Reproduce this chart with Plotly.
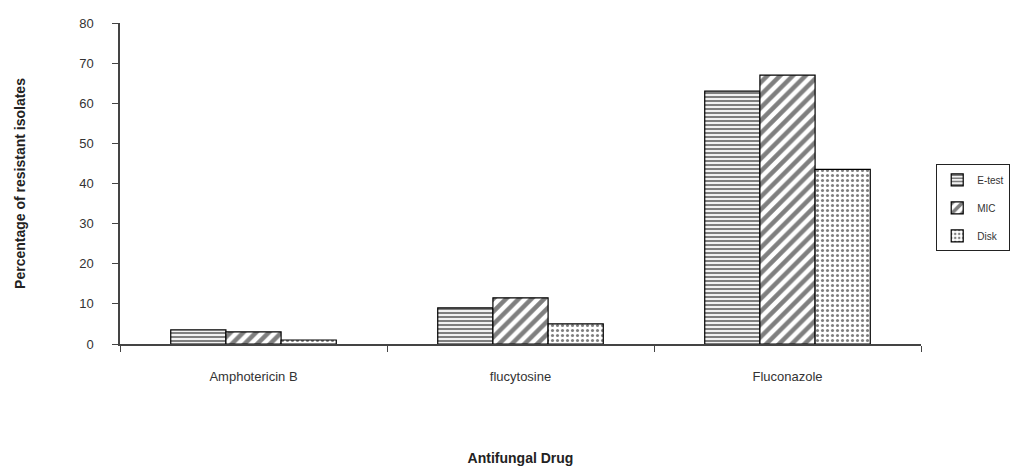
import plotly.graph_objects as go

drugs = ["Amphotericin B", "flucytosine", "Fluconazole"]
etest = [3.5, 9, 63]
mic = [3, 11.5, 67]
disk = [1, 5, 43.5]

series = [
    ("E-test", etest, dict(shape="-", size=4, solidity=0.55)),
    ("MIC", mic, dict(shape="/", size=9, solidity=0.5)),
    ("Disk", disk, dict(shape=".", size=5, solidity=0.3)),
]

fig = go.Figure()
for name, vals, pat in series:
    fig.add_trace(go.Bar(
        name=name, x=drugs, y=vals, legendgroup=name,
        marker=dict(
            color="white",
            line=dict(color="black", width=1.2),
            pattern=dict(fgcolor="black", bgcolor="white", fillmode="overlay", **pat),
        ),
    ))

font = "Liberation Sans, Arial, sans-serif"
fig.update_layout(
    width=1013, height=467,
    margin=dict(l=120, r=92, t=23, b=123, autoexpand=False),
    paper_bgcolor="white", plot_bgcolor="white",
    barmode="group", bargap=0.38, bargroupgap=0,
    font=dict(family=font, color="#222", size=13),
    showlegend=True,
    legend=dict(
        x=1.019, xanchor="left", y=0.424, yanchor="middle",
        bordercolor="#222", borderwidth=1, bgcolor="white",
        font=dict(size=10, color="#333"), traceorder="grouped", tracegroupgap=9,
        itemwidth=30,
    ),
    xaxis=dict(
        showline=True, linecolor="#444", linewidth=1.5,
        ticks="outside", ticklen=6, tickcolor="#444", tickson="boundaries",
        tickfont=dict(size=13, color="#333"), ticklabelstandoff=20,
        title=dict(text="<b>Antifungal Drug</b>", font=dict(size=14, color="#222"), standoff=70),
        showgrid=False, zeroline=False, automargin=False,
    ),
    yaxis=dict(
        range=[0, 80], dtick=10,
        showline=True, linecolor="#444", linewidth=1.5,
        ticks="outside", ticklen=6, tickcolor="#444",
        tickfont=dict(size=13, color="#333"), ticklabelstandoff=16,
        title=dict(text="<b>Percentage of resistant isolates</b>", font=dict(size=14, color="#222"), standoff=50),
        showgrid=False, zeroline=False, automargin=False,
    ),
)

fig.write_html("out.html")
